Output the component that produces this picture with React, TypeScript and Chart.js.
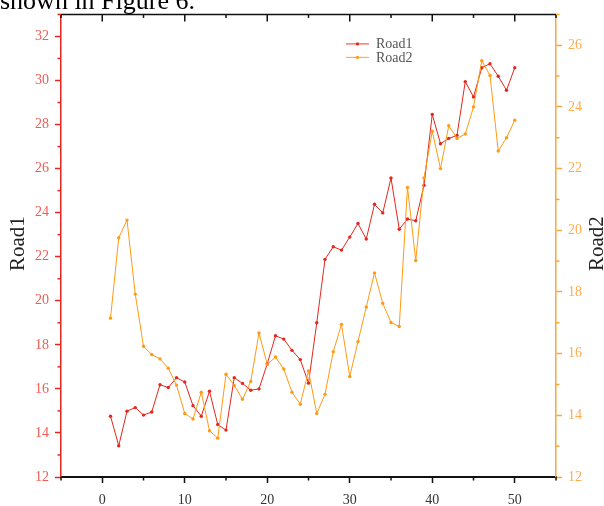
import React, { useEffect, useRef } from "react";
import { Chart, registerables } from "chart.js";

Chart.register(...registerables);

const xValues = [1, 2, 3, 4, 5, 6, 7, 8, 9, 10, 11, 12, 13, 14, 15, 16, 17, 18, 19, 20, 21, 22, 23, 24, 25, 26, 27, 28, 29, 30, 31, 32, 33, 34, 35, 36, 37, 38, 39, 40, 41, 42, 43, 44, 45, 46, 47, 48, 49, 50];

const road1 = [
  14.76, 13.42, 14.99, 15.15, 14.81, 14.95, 16.19, 16.06, 16.51, 16.31,
  15.24, 14.76, 15.89, 14.38, 14.13, 16.51, 16.25, 15.94, 16.0, 17.14,
  18.41, 18.26, 17.75, 17.33, 16.26, 19.0, 21.88, 22.45, 22.3, 22.89,
  23.51, 22.8, 24.38, 23.99, 25.57, 23.25, 23.71, 23.63, 25.24, 28.46,
  27.13, 27.37, 27.51, 29.95, 29.25, 30.58, 30.76, 30.19, 29.56, 30.58,
];

const road2 = [
  17.15, 19.76, 20.33, 17.93, 16.24, 15.97, 15.83, 15.53, 14.98, 14.06,
  13.88, 14.75, 13.5, 13.26, 15.33, 14.97, 14.52, 15.1, 16.67, 15.65,
  15.89, 15.5, 14.75, 14.36, 15.44, 14.06, 14.68, 16.06, 16.95, 15.26,
  16.39, 17.51, 18.62, 17.63, 17.01, 16.88, 21.39, 19.02, 21.7, 23.21,
  22.0, 23.39, 22.98, 23.12, 24.0, 25.5, 25.02, 22.57, 23.0, 23.57,
];

const seriesNames = ["Road1", "Road2"];
const xTicks = [0, 10, 20, 30, 40, 50];
const xMinorTicks = [-5, 5, 15, 25, 35, 45, 55];
const leftTicks = [12, 14, 16, 18, 20, 22, 24, 26, 28, 30, 32];
const leftMinorTicks = [13, 15, 17, 19, 21, 23, 25, 27, 29, 31, 33];
const rightTicks = [12, 14, 16, 18, 20, 22, 24, 26];
const rightMinorTicks = [13, 15, 17, 19, 21, 23, 25, 27];
const headerText = "shown in Figure 6.";

const RED = "#e4261d";
const RED_LABEL = "#ef5c54";
const ORANGE = "#ff9a12";
const ORANGE_AXIS = "#ffa534";
const ORANGE_LABEL = "#ffab4c";
const FONT = "'Liberation Serif', 'DejaVu Serif', serif";

const decorPlugin = {
  id: "decor",
  afterDraw(chart: any) {
    const { ctx, chartArea: a, scales } = chart;
    const sx = scales.x;
    const sl = scales.y;
    const sr = scales.y2;
    const seg = (x1: number, y1: number, x2: number, y2: number) => {
      ctx.beginPath();
      ctx.moveTo(x1, y1);
      ctx.lineTo(x2, y2);
      ctx.stroke();
    };
    ctx.save();
    // top mirror axis
    ctx.strokeStyle = "#111";
    ctx.lineWidth = 1.5;
    seg(a.left, a.top, a.right, a.top);
    xTicks.forEach((v) => {
      const p = sx.getPixelForValue(v);
      seg(p, a.top, p, a.top + 7);
    });
    xMinorTicks.forEach((v) => {
      const p = sx.getPixelForValue(v);
      seg(p, a.top, p, a.top + 3.5);
      seg(p, a.bottom, p, a.bottom + 3.5);
    });
    // left minor ticks
    ctx.strokeStyle = RED;
    leftMinorTicks.forEach((v) => {
      const p = sl.getPixelForValue(v);
      seg(a.left - 3.5, p, a.left, p);
    });
    // right minor ticks
    ctx.strokeStyle = ORANGE_AXIS;
    rightMinorTicks.forEach((v) => {
      const p = sr.getPixelForValue(v);
      seg(a.right, p, a.right + 3.5, p);
    });

    // axis titles (reading bottom to top)
    const midY = (a.top + a.bottom) / 2 - 2;
    ctx.fillStyle = "#222";
    ctx.font = `21px ${FONT}`;
    ctx.textAlign = "center";
    ctx.textBaseline = "alphabetic";
    ctx.save();
    ctx.translate(24, midY);
    ctx.rotate(-Math.PI / 2);
    ctx.fillText(seriesNames[0], 0, 0);
    ctx.restore();
    ctx.save();
    ctx.translate(603, midY);
    ctx.rotate(-Math.PI / 2);
    ctx.fillText(seriesNames[1], 0, 0);
    ctx.restore();

    // legend
    const lx = a.left + 285;
    const ly = a.top + 29.5;
    const entries = [
      { name: seriesNames[0], line: "#ef5a50", mark: RED },
      { name: seriesNames[1], line: "#ffb24a", mark: ORANGE },
    ];
    ctx.font = `14px ${FONT}`;
    ctx.textAlign = "left";
    ctx.textBaseline = "middle";
    entries.forEach((e, i) => {
      const y = ly + i * 13.5;
      ctx.strokeStyle = e.line;
      ctx.lineWidth = 1.2;
      seg(lx, y, lx + 23, y);
      ctx.fillStyle = e.mark;
      ctx.beginPath();
      ctx.arc(lx + 11.5, y, 1.6, 0, Math.PI * 2);
      ctx.fill();
      ctx.fillStyle = "#555";
      ctx.fillText(e.name, lx + 30, y + 0.5);
    });

    // clipped header text from the surrounding page
    ctx.fillStyle = "#000";
    ctx.font = `26px ${FONT}`;
    ctx.textAlign = "left";
    ctx.textBaseline = "alphabetic";
    ctx.fillText(headerText, 0, 8.5);
    ctx.restore();
  },
};

export default function App() {
  const ref = useRef<HTMLCanvasElement | null>(null);

  useEffect(() => {
    if (!ref.current) return;
    const chart = new Chart(ref.current, {
      type: "line",
      data: {
        datasets: [
          {
            label: seriesNames[0],
            data: xValues.map((x, i) => ({ x, y: road1[i] })),
            yAxisID: "y",
            borderColor: RED,
            backgroundColor: RED,
            pointBackgroundColor: RED,
            borderWidth: 1,
            pointRadius: 1.7,
            pointBorderWidth: 0,
            tension: 0,
            order: 2,
          },
          {
            label: seriesNames[1],
            data: xValues.map((x, i) => ({ x, y: road2[i] })),
            yAxisID: "y2",
            borderColor: ORANGE,
            backgroundColor: ORANGE,
            pointBackgroundColor: ORANGE,
            borderWidth: 1,
            pointRadius: 1.7,
            pointBorderWidth: 0,
            tension: 0,
            order: 1,
          },
        ],
      },
      options: {
        animation: false,
        responsive: false,
        maintainAspectRatio: false,
        layout: { padding: { top: 13, left: 0, right: 0, bottom: 0 } },
        plugins: {
          legend: { display: false },
          tooltip: { enabled: false },
        },
        scales: {
          x: {
            type: "linear",
            position: "bottom",
            min: -5,
            max: 55,
            afterBuildTicks: (s: any) => {
              s.ticks = xTicks.map((v) => ({ value: v }));
            },
            afterFit: (s: any) => {
              s.height = 29;
            },
            ticks: {
              color: "#333",
              font: { family: FONT, size: 14 },
              padding: 9,
              maxRotation: 0,
              autoSkip: false,
            },
            grid: {
              drawOnChartArea: false,
              drawTicks: true,
              tickLength: 6,
              tickColor: "#111",
              tickWidth: 1.5,
            },
            border: { color: "#111", width: 2 },
          },
          y: {
            type: "linear",
            position: "left",
            min: 12,
            max: 33,
            afterBuildTicks: (s: any) => {
              s.ticks = leftTicks.map((v) => ({ value: v }));
            },
            afterFit: (s: any) => {
              s.width = 61;
            },
            ticks: {
              color: RED_LABEL,
              font: { family: FONT, size: 14 },
              padding: 6,
              autoSkip: false,
            },
            grid: {
              drawOnChartArea: false,
              drawTicks: true,
              tickLength: 6,
              tickColor: RED,
              tickWidth: 1.5,
            },
            border: { color: RED, width: 1.5 },
          },
          y2: {
            type: "linear",
            position: "right",
            min: 12,
            max: 27,
            afterBuildTicks: (s: any) => {
              s.ticks = rightTicks.map((v) => ({ value: v }));
            },
            afterFit: (s: any) => {
              s.width = 48;
            },
            ticks: {
              color: ORANGE_LABEL,
              font: { family: FONT, size: 14 },
              padding: 6,
              autoSkip: false,
            },
            grid: {
              drawOnChartArea: false,
              drawTicks: true,
              tickLength: 6,
              tickColor: ORANGE_AXIS,
              tickWidth: 1.5,
            },
            border: { color: ORANGE_AXIS, width: 1.5 },
          },
        },
      },
      plugins: [decorPlugin],
    } as any);
    return () => chart.destroy();
  }, []);

  return (
    <div
      style={{
        position: "fixed",
        left: 0,
        top: 0,
        width: 604,
        height: 506,
        background: "#fff",
      }}
    >
      <canvas ref={ref} width={604} height={506} style={{ display: "block" }} />
    </div>
  );
}
